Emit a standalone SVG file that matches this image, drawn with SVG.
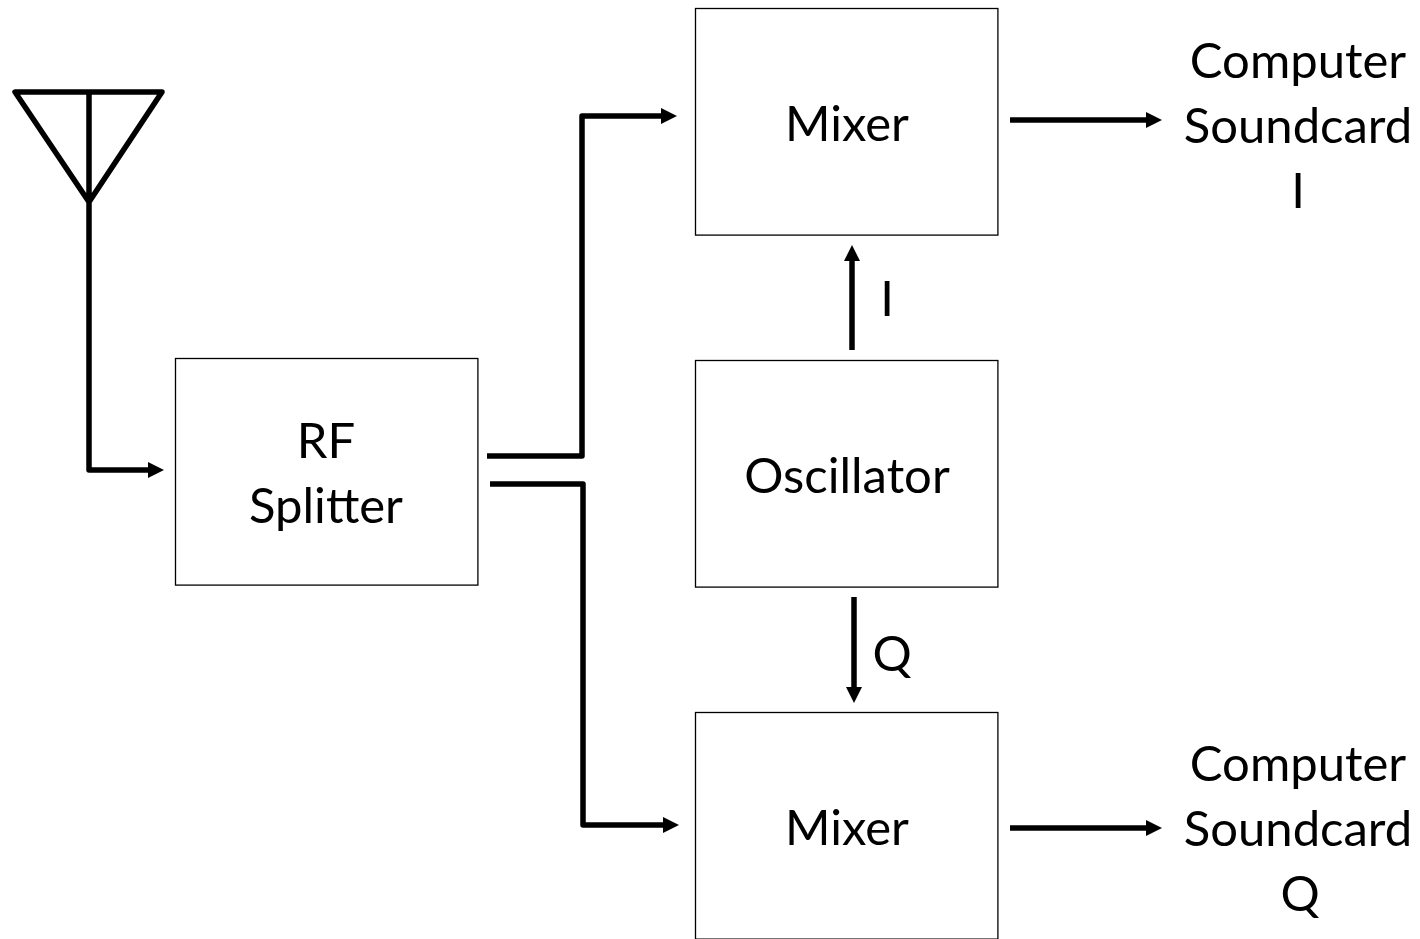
<svg xmlns="http://www.w3.org/2000/svg" width="1420" height="939" viewBox="0 0 1420 939">
<style>
.b{fill:#fff;stroke:#000;stroke-width:1.3}
.c{fill:none;stroke:#000;stroke-width:5.5;stroke-linejoin:round}
.t{font-family:Lato,"Open Sans","Liberation Sans",sans-serif;font-size:49px;fill:#000;text-anchor:middle}
</style>
<defs><marker id="a" markerUnits="userSpaceOnUse" markerWidth="18" markerHeight="18" refX="1" refY="9" orient="auto"><path d="M0 1L16 9L0 17z" fill="#000"/></marker></defs>
<rect width="1420" height="939" fill="#fff"/>
<g id="connectors">
<path class="c" d="M15 92H162L89 202zM89 92V470H149" marker-end="url(#a)" stroke-linecap="round"/>
<path class="c" d="M487 456H582V116H662" marker-end="url(#a)"/>
<path class="c" d="M490 484H583V825H664" marker-end="url(#a)"/>
<path class="c" d="M1010 120H1147" marker-end="url(#a)"/>
<path class="c" d="M1010 828H1147" marker-end="url(#a)"/>
<path class="c" d="M852 350V260" marker-end="url(#a)"/>
<path class="c" d="M854 597V688" marker-end="url(#a)"/>
</g>
<g id="rf"><rect class="b" x="175.500" y="358.500" width="302.400" height="226.600"/><text class="t" x="326" y="458">RF</text><text class="t" x="326" y="523">Splitter</text></g>
<g id="mixer1"><rect class="b" x="695.500" y="8.500" width="302.400" height="226.600"/><text class="t" x="847" y="141">Mixer</text></g>
<g id="osc"><rect class="b" x="695.500" y="360.500" width="302.400" height="226.600"/><text class="t" x="847" y="493">Oscillator</text></g>
<g id="mixer2"><rect class="b" x="695.500" y="712.500" width="302.400" height="226.600"/><text class="t" x="847" y="845">Mixer</text></g>
<g id="labelI"><text class="t" x="887" y="316">I</text></g>
<g id="labelQ"><text class="t" x="892" y="671">Q</text></g>
<g id="outI"><text class="t" x="1298" y="78">Computer</text><text class="t" x="1298" y="143">Soundcard</text><text class="t" x="1298" y="208">I</text></g>
<g id="outQ"><text class="t" x="1298" y="781">Computer</text><text class="t" x="1298" y="846">Soundcard</text><text class="t" x="1300" y="911">Q</text></g>
</svg>
